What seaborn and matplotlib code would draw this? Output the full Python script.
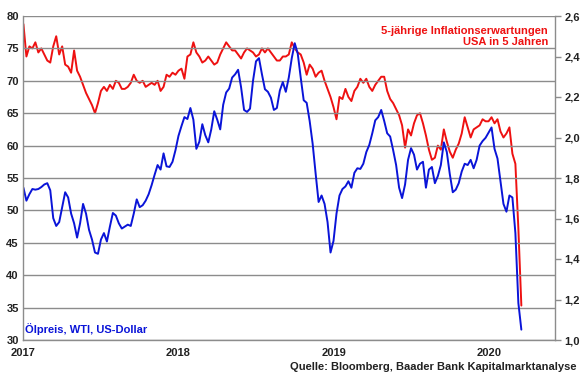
import numpy as np
import pandas as pd
import seaborn as sns
import matplotlib
matplotlib.use("Agg")
import matplotlib.pyplot as plt
import matplotlib.dates as mdates

# weekly values, starting first week of 2017
start_date = "2017-01-02"

oil_wti = [
    53.5, 51.5, 52.5, 53.3, 53.2, 53.3, 53.6, 54.0, 54.2, 53.1,
    48.8, 47.6, 48.2, 50.5, 52.8, 52.0, 49.5, 48.0, 45.8, 48.0,
    51.0, 49.5, 47.0, 45.5, 43.5, 43.3, 45.5, 46.5, 45.2, 47.5,
    49.6, 49.2, 48.0, 47.2, 47.5, 47.8, 47.6, 49.5, 51.7, 50.5,
    50.8, 51.5, 52.5, 53.9, 55.5, 57.0, 56.3, 58.8, 56.8, 56.7,
    57.5, 59.3, 61.5, 63.0, 64.4, 64.1, 65.8, 64.0, 59.5, 60.6,
    63.3, 61.6, 60.5, 62.5, 65.3, 64.0, 62.5, 66.3, 68.2, 68.8,
    70.5, 71.0, 71.7, 69.0, 65.5, 65.2, 65.7, 70.0, 73.0, 73.5,
    71.0, 68.7, 68.3, 67.4, 65.5, 65.8, 68.5, 69.8, 68.3, 70.5,
    73.5, 75.8, 74.2, 70.5, 67.0, 66.6, 63.8, 60.3, 55.7, 51.3,
    52.3, 51.0, 48.2, 43.5, 45.3, 49.5, 52.3, 53.3, 53.7, 54.5,
    53.5, 55.8, 56.5, 56.4, 57.2, 59.0, 60.1, 61.9, 63.9, 64.4,
    65.5, 63.8, 61.9, 61.4, 59.3, 57.0, 53.5, 51.9, 54.0, 57.8,
    59.6, 58.6, 56.3, 57.2, 57.5, 53.5, 56.3, 56.7, 54.2, 55.3,
    57.0, 60.5, 59.0, 55.6, 52.8, 53.2, 54.2, 56.0, 57.2, 57.0,
    57.8, 56.5, 57.8, 60.0, 60.7, 61.2, 62.0, 62.8, 59.5, 58.0,
    54.5, 51.0, 49.8, 52.3, 52.0, 46.5, 35.7, 31.6,
]

infl_5y5y = [
    2.56, 2.40, 2.45, 2.44, 2.47, 2.42, 2.44, 2.41, 2.38, 2.37,
    2.45, 2.50, 2.41, 2.45, 2.36, 2.35, 2.32, 2.43, 2.33, 2.30,
    2.26, 2.22, 2.19, 2.16, 2.12, 2.17, 2.23, 2.25, 2.23, 2.26,
    2.24, 2.28, 2.27, 2.24, 2.24, 2.25, 2.27, 2.31, 2.28, 2.27,
    2.28, 2.25, 2.26, 2.27, 2.26, 2.28, 2.23, 2.25, 2.31, 2.30,
    2.32, 2.31, 2.33, 2.34, 2.29, 2.40, 2.41, 2.47, 2.42, 2.40,
    2.37, 2.38, 2.40, 2.38, 2.36, 2.37, 2.41, 2.44, 2.47, 2.45,
    2.43, 2.43, 2.41, 2.39, 2.42, 2.44, 2.43, 2.42, 2.40, 2.41,
    2.44, 2.42, 2.44, 2.42, 2.40, 2.38, 2.38, 2.40, 2.40, 2.41,
    2.47, 2.44, 2.42, 2.41, 2.37, 2.31, 2.36, 2.34, 2.30, 2.32,
    2.33, 2.28, 2.24, 2.20, 2.15, 2.09, 2.20, 2.19, 2.24, 2.20,
    2.18, 2.23, 2.25, 2.29, 2.27, 2.29, 2.25, 2.23, 2.26, 2.28,
    2.30, 2.30, 2.23, 2.19, 2.17, 2.14, 2.11, 2.06, 1.95, 2.04,
    2.01, 2.07, 2.11, 2.12, 2.07, 2.01, 1.94, 1.89, 1.90, 1.96,
    1.94, 2.04, 1.98, 1.93, 1.90, 1.94, 1.97, 2.02, 2.10, 2.05,
    2.00, 2.04, 2.05, 2.06, 2.09, 2.08, 2.08, 2.10, 2.07, 2.09,
    2.03, 2.00, 2.02, 2.05, 1.92, 1.87, 1.55, 1.17,
]

left_ticks = [30, 35, 40, 45, 50, 55, 60, 65, 70, 75, 80]
right_ticks = [1.0, 1.2, 1.4, 1.6, 1.8, 2.0, 2.2, 2.4, 2.6]

dates = pd.date_range(start_date, periods=len(oil_wti), freq="7D")
df = pd.DataFrame({"date": dates, "oil": oil_wti, "infl": infl_5y5y})

sns.set_style("white")
plt.rcParams["font.family"] = ["Liberation Sans", "DejaVu Sans"]

RED = "#ee1111"
BLUE = "#0a14d8"
GRID = "#8c8c8c"

fig = plt.figure(figsize=(5.8, 3.75), dpi=100)
ax = fig.add_axes([23 / 580, 1 - 340 / 375, 532 / 580, 324 / 375])
ax2 = ax.twinx()

sns.lineplot(data=df, x="date", y="infl", ax=ax2, color=RED, linewidth=1.4)
sns.lineplot(data=df, x="date", y="oil", ax=ax, color=BLUE, linewidth=1.4)

# blue on top of red, like the reference
ax.set_zorder(ax2.get_zorder() + 1)
ax.patch.set_visible(False)

ax.set_ylim(30, 80)
ax.set_yticks(left_ticks)
ax2.set_ylim(1.0, 2.6)
ax2.set_yticks(right_ticks)
ax2.set_yticklabels([f"{v:.1f}".replace(".", ",") for v in right_ticks])

ax.set_xlim(pd.Timestamp("2017-01-01"), pd.Timestamp("2020-06-03"))
ax.xaxis.set_major_locator(mdates.YearLocator())
ax.xaxis.set_major_formatter(mdates.DateFormatter("%Y"))

ax.grid(axis="y", color=GRID, linewidth=1.0)
ax.grid(axis="x", visible=False)
ax2.grid(False)

for a in (ax, ax2):
    a.set_xlabel("")
    a.set_ylabel("")
    a.spines["top"].set_visible(False)
    for s in ("left", "right", "bottom"):
        a.spines[s].set_color(GRID)
        a.spines[s].set_linewidth(1.0)
ax.spines["right"].set_visible(False)
ax2.spines["left"].set_visible(False)
ax2.spines["bottom"].set_visible(False)

ax.tick_params(axis="y", length=0, pad=3, labelsize=8)
ax.tick_params(axis="x", length=4, width=1, color=GRID, direction="out",
               pad=2, labelsize=8)
ax2.tick_params(axis="y", length=4, width=1, color=GRID, direction="out",
                pad=3, labelsize=8)
for lab in ax.get_yticklabels() + ax.get_xticklabels() + ax2.get_yticklabels():
    lab.set_fontweight("bold")
    lab.set_color("#222222")

ax.text(0.987, 0.97, "5-jährige Inflationserwartungen\nUSA in 5 Jahren",
        transform=ax.transAxes, ha="right", va="top", color=RED,
        fontsize=8, fontweight="bold", linespacing=1.15)
ax.text(0.003, 0.035, "Ölpreis, WTI, US-Dollar", transform=ax.transAxes,
        ha="left", va="center", color=BLUE, fontsize=8, fontweight="bold")
fig.text(577 / 580, 1 - 367 / 375,
         "Quelle: Bloomberg, Baader Bank Kapitalmarktanalyse",
         ha="right", va="center", fontsize=8, fontweight="bold", color="#222222")

fig.savefig("out.png", dpi=100)
